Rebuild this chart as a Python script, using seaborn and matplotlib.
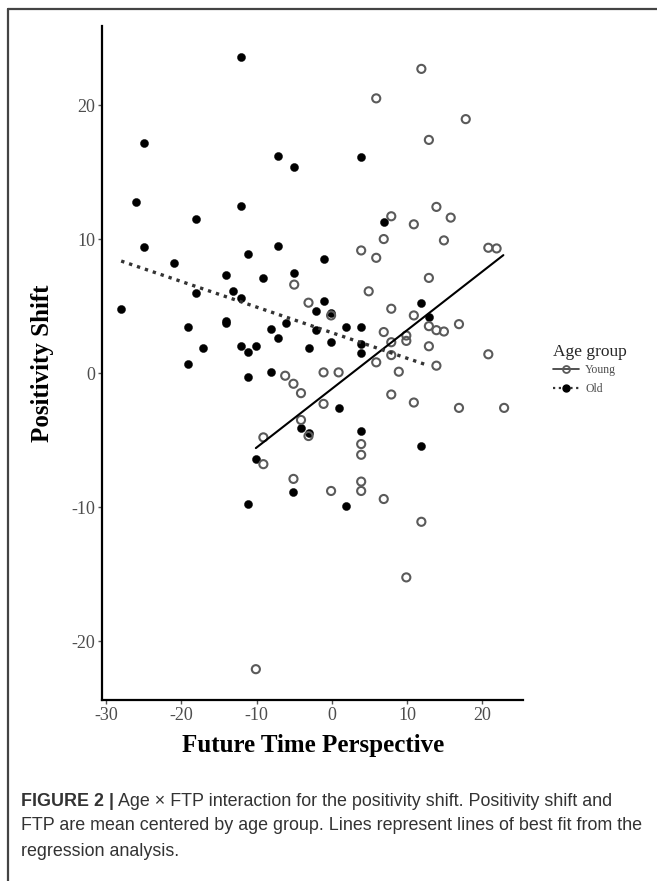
import matplotlib
matplotlib.use("Agg")
import matplotlib.pyplot as plt
from matplotlib.lines import Line2D
import seaborn as sns
import pandas as pd

# ---- data ----
young_x = [11.9, 5.9, 17.8, 12.9, 13.9, 15.8, 7.9, 10.9, 6.9, 14.9, 20.8, 21.9, 3.9, 5.9,
           12.9, -5.0, 4.9, -3.1, 7.9, -0.1, 10.9, 16.9, 12.9, 13.9, 14.9, 6.9, 9.9, 9.9,
           7.9, 12.9, 20.8, 7.9, 5.9, 13.9, 8.9, -1.1, 0.9, -6.2, -5.1, -4.1, 7.9, 10.9,
           -1.1, 16.9, 22.9, -4.1, -3.1, -9.1, 3.9, 3.9, -9.1, -5.1, 3.9, -0.1, 3.9, 6.9,
           11.9, 9.9, -10.1]
young_y = [22.7, 20.5, 18.95, 17.4, 12.4, 11.6, 11.7, 11.1, 10.0, 9.9, 9.35, 9.3, 9.15, 8.6,
           7.1, 6.6, 6.1, 5.25, 4.8, 4.3, 4.3, 3.65, 3.5, 3.2, 3.1, 3.06, 2.8, 2.4,
           2.3, 2.0, 1.4, 1.34, 0.8, 0.55, 0.1, 0.05, 0.05, -0.2, -0.8, -1.5, -1.6, -2.2,
           -2.3, -2.6, -2.6, -3.5, -4.7, -4.8, -5.3, -6.1, -6.8, -7.9, -8.1, -8.8, -8.8, -9.4,
           -11.1, -15.25, -22.1]

old_x = [-12.1, -25.0, -7.1, 3.9, -5.0, -26.0, -12.1, -18.1, 6.9, -25.0, -7.1, -11.1, -1.1,
         -21.0, -5.0, -14.1, -9.1, -18.1, -13.1, -12.1, -1.1, 11.9, -28.0, -2.1, -0.1, 12.9,
         -14.1, -14.1, -6.1, -19.1, -8.1, 1.9, 3.9, -2.1, -7.1, -0.1, 3.9, -17.1, -12.1,
         -10.1, -3.1, -11.1, 3.9, -19.1, -8.1, -11.1, 0.9, -4.1, -3.1, 3.9, 11.9, -10.1,
         -5.1, -11.1, 1.9]
old_y = [23.6, 17.2, 16.2, 16.1, 15.4, 12.8, 12.5, 11.5, 11.3, 9.4, 9.5, 8.9, 8.5,
         8.2, 7.5, 7.3, 7.1, 6.0, 6.1, 5.6, 5.4, 5.25, 4.75, 4.6, 4.5, 4.2,
         3.9, 3.7, 3.7, 3.4, 3.3, 3.4, 3.45, 3.2, 2.6, 2.3, 2.2, 1.9, 2.0,
         2.0, 1.85, 1.6, 1.5, 0.7, 0.1, -0.3, -2.6, -4.1, -4.5, -4.3, -5.45, -6.4,
         -8.85, -9.75, -9.9]

# fitted lines (end points)
young_line_x = [-10.1, 22.8]
young_line_y = [-5.6, 8.8]
old_line_x = [-28.0, 12.9]
old_line_y = [8.36, 0.55]

groups = ["Young", "Old"]
x_ticks = [-30, -20, -10, 0, 10, 20]
y_ticks = [-20, -10, 0, 10, 20]

# ---- figure ----
sns.set_theme(style="white")
plt.rcParams["font.family"] = ["Liberation Serif", "DejaVu Serif"]

W, H = 657, 881
fig = plt.figure(figsize=(W / 100, H / 100), dpi=100)
ax = fig.add_axes([102 / W, 1 - 700 / H, (523.3 - 102) / W, (700 - 26) / H])

dy = pd.DataFrame({"x": young_x, "y": young_y})
do = pd.DataFrame({"x": old_x, "y": old_y})
sns.scatterplot(data=do, x="x", y="y", ax=ax, s=34, color="black", edgecolor="black",
                linewidth=0.3, zorder=3)
sns.scatterplot(data=dy, x="x", y="y", ax=ax, s=34, facecolor="none", edgecolor="#5a5a5a",
                linewidth=1.5, zorder=3)
sns.lineplot(x=young_line_x, y=young_line_y, ax=ax, color="black", lw=1.5, zorder=4)
sns.lineplot(x=old_line_x, y=old_line_y, ax=ax, color="#333333", lw=2.4,
             linestyle=(0, (1, 1.5)), zorder=4)

ax.set_xlim(-30.55, 25.45)
ax.set_ylim(-24.4, 25.9)
ax.set_xticks(x_ticks)
ax.set_xticklabels([str(v) for v in x_ticks])
ax.set_yticks(y_ticks)
ax.set_yticklabels([str(v) for v in y_ticks])
for s in ["top", "right"]:
    ax.spines[s].set_visible(False)
for s in ["left", "bottom"]:
    ax.spines[s].set_color("black")
    ax.spines[s].set_linewidth(1.6)
ax.tick_params(axis="both", which="both", direction="out", length=3, width=1,
               color="#555555", labelcolor="#4d4d4d", labelsize=13, pad=2,
               left=True, bottom=True)

ax.set_xlabel("Future Time Perspective", fontsize=18, fontweight="bold", color="black")
ax.set_ylabel("Positivity Shift", fontsize=18, fontweight="bold", color="black")
ax.xaxis.set_label_coords(0.5, -0.05)
ax.yaxis.set_label_coords(-0.115, 0.5)

# legend
handles = [
    Line2D([0], [0], color="#333333", lw=1.2, marker="o", markersize=5,
           markerfacecolor="none", markeredgecolor="#5a5a5a", markeredgewidth=1.3),
    Line2D([0], [0], color="#333333", lw=1.6, linestyle=(0, (1, 1.6)), marker="o",
           markersize=5, markerfacecolor="black", markeredgecolor="black"),
]
leg = fig.legend(handles, groups, title="Age group", loc="upper left",
                 bbox_to_anchor=(545 / W, 1 - 336 / H), frameon=False,
                 fontsize=8.5, title_fontsize=12.5, handlelength=2.2,
                 handletextpad=0.5, labelspacing=0.55, borderpad=0.2)
for t in leg.get_texts():
    t.set_color("#4d4d4d")
leg._legend_box.align = "left"
leg._legend_box.sep = 3

# frame of the figure panel
fig.add_artist(Line2D([8 / W, 1], [1 - 8.5 / H, 1 - 8.5 / H], transform=fig.transFigure,
                      color="#444444", lw=1.6))
fig.add_artist(Line2D([8 / W, 8 / W], [0, 1 - 8.5 / H], transform=fig.transFigure,
                      color="#444444", lw=1.6))

# caption
cap_font = ["Liberation Sans", "DejaVu Sans"]
cap_size = 12.9
cap_color = "#333333"
x0 = 21 / W
t1 = fig.text(x0, 1 - 801 / H, "FIGURE 2 |", family=cap_font, fontsize=cap_size,
              fontweight="bold", color=cap_color, va="center")
fig.canvas.draw()
bb = t1.get_window_extent(renderer=fig.canvas.get_renderer())
fig.text(bb.x1 / W + 4 / W, 1 - 801 / H,
         "Age \u00d7 FTP interaction for the positivity shift. Positivity shift and",
         family=cap_font, fontsize=cap_size, color=cap_color, va="center")
fig.text(x0, 1 - 826 / H,
         "FTP are mean centered by age group. Lines represent lines of best fit from the",
         family=cap_font, fontsize=cap_size, color=cap_color, va="center")
fig.text(x0, 1 - 851 / H, "regression analysis.", family=cap_font, fontsize=cap_size,
         color=cap_color, va="center")

fig.savefig("out.png", dpi=100, facecolor="white")
